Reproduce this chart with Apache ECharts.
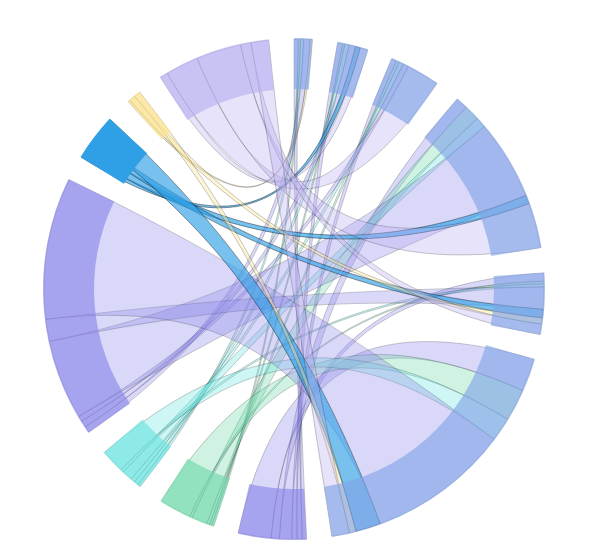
<!DOCTYPE html>
<html><head><meta charset="utf-8">
<script src="https://cdn.jsdelivr.net/npm/echarts@6/dist/echarts.min.js"></script>
<style>html,body{margin:0;padding:0;background:#fff}#c{width:600px;height:552px}</style>
</head><body><div id="c"></div>
<script>
// Node names clockwise from the top: six receiving nodes, then seven sending nodes
const targets = ['T1', 'T2', 'T3', 'T4', 'T5', 'T6'];
const sources = ['S1', 'S2', 'S3', 'S4', 'S5', 'S6', 'S7'];
// Flow values from each source to T1..T6
const flowsS1 = [10, 12, 12, 28, 19, 76];
const flowsS2 = [5, 5, 7, 36, 6, 74];
const flowsS3 = [7, 10, 10, 24, 7, 55];
const flowsS4 = [15, 15, 13, 184, 51, 327];
const flowsS5 = [0, 11, 0, 20, 20, 58];
const flowsS6 = [5, 0, 0, 0, 14, 15];
const flowsS7 = [0, 18, 76, 104, 24, 41];
const flows = [flowsS1, flowsS2, flowsS3, flowsS4, flowsS5, flowsS6, flowsS7];

// styles
const targetColor = '#82a4e6';
const sourceColors = ['#8b86e9', '#72d9ae', '#6ce4df', '#8b86e9', '#2fa0e6', '#fde38f', '#b9b0f2'];
const sourceNodeOpacity = [0.65, 0.65, 0.65, 0.65, 1, 0.65, 0.65];
const sourceLinkOpacity = [0.32, 0.34, 0.34, 0.32, 0.65, 0.37, 0.35];

function makeNodes(hide) {
  const arr = [];
  targets.forEach(n => arr.push({ name: n, itemStyle: { color: targetColor, opacity: hide ? 0 : 0.65 } }));
  sources.forEach((n, i) => arr.push({ name: n, itemStyle: { color: sourceColors[i], opacity: hide ? 0 : sourceNodeOpacity[i] } }));
  return arr;
}
function makeLinks(show) {
  const arr = [];
  sources.forEach((s, i) => {
    flows[i].forEach((v, j) => {
      if (v > 0) arr.push({
        source: s, target: targets[j], value: v,
        lineStyle: show ? { opacity: sourceLinkOpacity[i] } : { opacity: 0, width: 0 }
      });
    });
  });
  return arr;
}

const common = {
  type: 'chord',
  center: [294, 289],
  startAngle: 90,
  clockwise: true,
  padAngle: 5.8,
  label: { show: false },
  emphasis: { disabled: true },
  silent: true
};

const chart = echarts.init(document.getElementById('c'));
chart.setOption({
  animation: false,
  series: [
    Object.assign({}, common, {
      z: 1,
      radius: [250, 251],
      itemStyle: { borderRadius: 0 },
      lineStyle: { color: 'source', width: 0.6 },
      data: makeNodes(true),
      links: makeLinks(true)
    }),
    Object.assign({}, common, {
      z: 3,
      radius: [200, 251],
      itemStyle: { borderRadius: 0 },
      lineStyle: { color: 'source', width: 0, opacity: 0 },
      data: makeNodes(false),
      links: makeLinks(false)
    })
  ]
});
</script>
</body></html>
